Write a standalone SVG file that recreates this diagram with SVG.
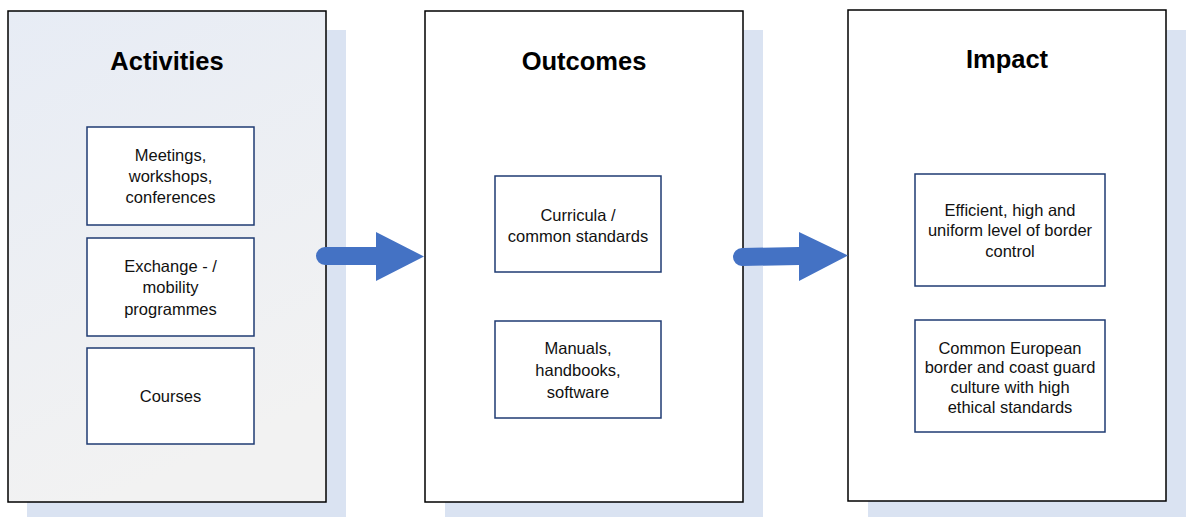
<svg xmlns="http://www.w3.org/2000/svg" width="1186" height="517" viewBox="0 0 1186 517">
<defs>
<linearGradient id="actFill" x1="0" y1="0" x2="0.3" y2="1">
<stop offset="0" stop-color="#e7ecf5"/>
<stop offset="1" stop-color="#f2f2f2"/>
</linearGradient>
<style>
.shadow{fill:#dae3f2;stroke:none}
.panel{stroke:#000;stroke-width:1.5}
.title{font-family:"Liberation Sans",Arial,sans-serif;font-weight:bold;font-size:25.5px;fill:#000;text-anchor:middle}
.item{fill:#fff;stroke:#1f3b73;stroke-width:1.5}
.lbl{font-family:"Liberation Sans",Arial,sans-serif;font-size:16.5px;fill:#111;text-anchor:middle}
.arrow{fill:#4472c4;stroke:none}
</style>
</defs>
<rect width="1186" height="517" fill="#fff"/>
<g id="activities">
<rect class="shadow" x="27" y="30" width="319" height="487"/>
<rect class="panel" x="8" y="11" width="318" height="491" fill="url(#actFill)"/>
<text class="title" x="167" y="70">Activities</text>
</g>
<g id="outcomes">
<rect class="shadow" x="445" y="30" width="318" height="487"/>
<rect class="panel" x="425" y="11" width="318" height="491" fill="#fff"/>
<text class="title" x="584" y="70">Outcomes</text>
</g>
<g id="impact">
<rect class="shadow" x="868" y="30" width="318" height="487"/>
<rect class="panel" x="848" y="10" width="318" height="491" fill="#fff"/>
<text class="title" x="1007" y="68">Impact</text>
</g>
<g id="act-meetings">
<rect class="item" x="87" y="127" width="167" height="98"/>
<text class="lbl" x="170.5" y="161">Meetings,</text>
<text class="lbl" x="170.5" y="182">workshops,</text>
<text class="lbl" x="170.5" y="203">conferences</text>
</g>
<g id="act-exchange">
<rect class="item" x="87" y="238" width="167" height="98"/>
<text class="lbl" x="170.5" y="272">Exchange - /</text>
<text class="lbl" x="170.5" y="293">mobility</text>
<text class="lbl" x="170.5" y="315">programmes</text>
</g>
<g id="act-courses">
<rect class="item" x="87" y="348" width="167" height="96"/>
<text class="lbl" x="170.5" y="402">Courses</text>
</g>
<g id="out-curricula">
<rect class="item" x="495" y="176" width="166" height="96"/>
<text class="lbl" x="578" y="221">Curricula /</text>
<text class="lbl" x="578" y="242">common standards</text>
</g>
<g id="out-manuals">
<rect class="item" x="495" y="321" width="166" height="97"/>
<text class="lbl" x="578" y="354">Manuals,</text>
<text class="lbl" x="578" y="376">handbooks,</text>
<text class="lbl" x="578" y="398">software</text>
</g>
<g id="imp-efficient">
<rect class="item" x="915" y="174" width="190" height="112"/>
<text class="lbl" x="1010" y="216">Efficient, high and</text>
<text class="lbl" x="1010" y="236">uniform level of border</text>
<text class="lbl" x="1010" y="257">control</text>
</g>
<g id="imp-culture">
<rect class="item" x="915" y="320" width="190" height="112"/>
<text class="lbl" x="1010" y="354">Common European</text>
<text class="lbl" x="1010" y="373">border and coast guard</text>
<text class="lbl" x="1010" y="393">culture with high</text>
<text class="lbl" x="1010" y="413">ethical standards</text>
</g>
<g id="connectors">
<path class="arrow" d="M325,247 L376,247 L376,232 L424,256.5 L376,281 L376,265 L325,265 A9,9 0 0 1 325,247 Z"/>
<path class="arrow" d="M742,248 L799,247 L799,232 L848,255.5 L799,281 L799,265 L742,266 A9,9 0 0 1 742,248 Z"/>
</g>
</svg>
